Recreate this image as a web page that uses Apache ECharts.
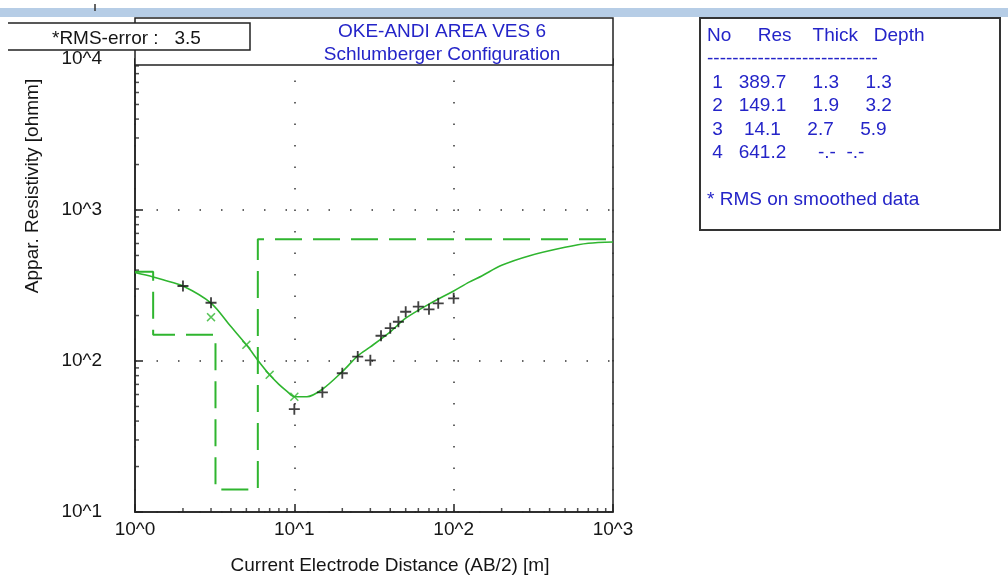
<!DOCTYPE html>
<html>
<head>
<meta charset="utf-8">
<script src="https://cdn.jsdelivr.net/npm/echarts@6/dist/echarts.min.js"></script>
<style>
  html, body { margin: 0; padding: 0; background: #fff; }
  #chart { width: 1008px; height: 582px; }
</style>
</head>
<body>
<div id="chart"></div>
<script>
// --- field data: AB/2 [m] vs apparent resistivity [ohmm] ---
const obsAB = [2, 3, 10, 15, 20, 25, 30, 35, 40, 45, 50, 60, 70, 80, 100];
const obsRho = [314, 243, 48, 62, 83, 107, 101, 147, 165, 182, 212, 229, 220, 241, 260];

// smoothed values (green x) where they differ from the field data
const smoothAB = [3, 5, 7, 10];
const smoothRho = [195, 128, 81, 58];

// model response curve
const curveAB = [1, 1.3, 1.5, 2, 3, 4, 5, 6, 7, 8, 9, 10, 12, 15, 20, 25, 30, 40, 50, 70, 100, 125, 150, 200, 300, 500, 700, 1000];
const curveRho = [385, 360, 345, 314, 242, 169, 128, 99, 81, 70, 63, 58, 58, 65, 85, 108, 124, 156, 192, 238, 291, 333, 366, 430, 498, 566, 602, 614];

// layered model
const layerNo = [1, 2, 3, 4];
const layerRes = [389.7, 149.1, 14.1, 641.2];
const layerThick = [1.3, 1.9, 2.7, null];
const layerDepth = [1.3, 3.2, 5.9, null];

const rmsError = 3.5;
const titleLines = ["OKE-ANDI AREA VES 6", "Schlumberger Configuration"];

// axis ranges / tick helpers
const xRange = [1, 1000];
const yRange = [10, 10000];
const minorMult = [2, 3, 4, 5, 6, 7, 8, 9];
const xDecades = [1, 10, 100];
const yDecades = [10, 100, 1000];

const green = "#2fb52f";
const blue = "#2424c8";
const ink = "#151515";
const FONT = "Liberation Sans";

// step line of the layered model
const stepPts = [[xRange[0], layerRes[0]]];
layerDepth.forEach((d, i) => {
    if (d == null) return;
    stepPts.push([d, layerRes[i]], [d, layerRes[i + 1]]);
});
stepPts.push([xRange[1], layerRes[layerRes.length - 1]]);

const xMinor = xDecades.flatMap(d => minorMult.map(m => [m * d, yRange[0]]));
const yMinor = yDecades.flatMap(d => minorMult.map(m => [xRange[0], m * d]));

// table text
const rows = layerNo.map((n, i) =>
    " " + n +
    layerRes[i].toFixed(1).padStart(8) +
    (layerThick[i] != null ? layerThick[i].toFixed(1).padStart(8) : "      -.-") +
    (layerDepth[i] != null ? layerDepth[i].toFixed(1).padStart(8) : "  -.-")
);
const tableText = ["No     Res    Thick   Depth", "-".repeat(27)]
    .concat(rows, ["", "* RMS on smoothed data"]).join("\n");

const powLabel = v => "10^" + Math.round(Math.log10(v));

const chart = echarts.init(document.getElementById("chart"));

chart.setOption({
    backgroundColor: "#ffffff",
    animation: false,
    grid: {
        left: 135, right: 395, top: 59, bottom: 70,
        show: true, borderColor: "#222", borderWidth: 1.5,
        backgroundColor: "#fff",
        outerBoundsMode: "none"
    },
    xAxis: {
        type: "log", logBase: 10, min: xRange[0], max: xRange[1],
        axisLine: { lineStyle: { color: "#222", width: 1.5 } },
        axisTick: { inside: true, length: 8, lineStyle: { color: "#222", width: 1.5 } },
        axisLabel: { formatter: powLabel, color: ink, fontSize: 19, fontFamily: FONT, margin: 8 },
        splitLine: { show: true, lineStyle: { color: "#333", width: 1.5, type: [1.5, 20] } },
        minorTick: { show: false }
    },
    yAxis: {
        type: "log", logBase: 10, min: yRange[0], max: yRange[1],
        axisLine: { lineStyle: { color: "#222", width: 1.5 } },
        axisTick: { inside: true, length: 8, lineStyle: { color: "#222", width: 1.5 } },
        axisLabel: { formatter: powLabel, color: ink, fontSize: 19, fontFamily: FONT, margin: 33 },
        splitLine: { show: true, lineStyle: { color: "#333", width: 1.5, type: [1.5, 20] } },
        minorTick: { show: false }
    },
    series: [
        {
            name: "model", type: "line", data: stepPts, showSymbol: false, silent: true,
            lineStyle: { color: green, width: 2, type: [27, 11] }, z: 3
        },
        {
            name: "response", type: "line", smooth: 0.3, showSymbol: false, silent: true,
            data: curveAB.map((x, i) => [x, curveRho[i]]),
            lineStyle: { color: green, width: 1.6 }, z: 4
        },
        {
            name: "smoothed", type: "scatter", silent: true,
            symbol: "path://M0,1.2L1.2,0L5,3.8L8.8,0L10,1.2L6.2,5L10,8.8L8.8,10L5,6.2L1.2,10L0,8.8L3.8,5Z",
            symbolSize: 9,
            itemStyle: { color: green },
            data: smoothAB.map((x, i) => [x, smoothRho[i]]), z: 5
        },
        {
            name: "observed", type: "scatter", silent: true,
            symbol: "path://M5,0h2v12h-2z M0,5h12v2h-12z",
            symbolSize: 11,
            itemStyle: { color: "#111" },
            data: obsAB.map((x, i) => [x, obsRho[i]]), z: 6
        },
        {
            name: "xMinorTicks", type: "scatter", silent: true, clip: false,
            symbol: "rect", symbolSize: [1.5, 4], symbolOffset: [0, -2],
            itemStyle: { color: "#222" }, data: xMinor, z: 7
        },
        {
            name: "yMinorTicks", type: "scatter", silent: true, clip: false,
            symbol: "rect", symbolSize: [4, 1.5], symbolOffset: [2, 0],
            itemStyle: { color: "#222" }, data: yMinor, z: 7
        }
    ],
    graphic: [
        // window strip at top
        { type: "rect", shape: { x: 0, y: 8, width: 1008, height: 9 }, style: { fill: "#b6cde6" }, z: 100 },
        { type: "line", shape: { x1: 95, y1: 4, x2: 95, y2: 11 }, style: { stroke: "#333", lineWidth: 1.5 }, z: 101 },
        // title box
        { type: "rect", shape: { x: 135, y: 18, width: 478, height: 47 }, style: { fill: "#fff", stroke: "#222", lineWidth: 1.5 }, z: 100 },
        { type: "text", x: 442, y: 32, style: { text: titleLines[0], fill: blue, font: "19px '" + FONT + "'", textAlign: "center", textVerticalAlign: "middle" }, z: 101 },
        { type: "text", x: 442, y: 55, style: { text: titleLines[1], fill: blue, font: "19px '" + FONT + "'", textAlign: "center", textVerticalAlign: "middle" }, z: 101 },
        // RMS box
        { type: "rect", shape: { x: 0, y: 23, width: 250, height: 27 }, style: { fill: "#fff" }, z: 102 },
        { type: "polyline", shape: { points: [[8, 23], [250, 23], [250, 50], [8, 50]] }, style: { fill: null, stroke: "#222", lineWidth: 1.5 }, z: 103 },
        { type: "text", x: 52, y: 39, style: { text: "*RMS-error :   " + rmsError.toFixed(1), fill: ink, font: "19px '" + FONT + "'", textAlign: "left", textVerticalAlign: "middle" }, z: 103 },
        // layer table
        { type: "rect", shape: { x: 700, y: 18, width: 300, height: 212 }, style: { fill: "#fff", stroke: "#333", lineWidth: 2 }, z: 100 },
        { type: "text", x: 707, y: 24, style: { text: tableText, fill: blue, font: "19px '" + FONT + "'", lineHeight: 23.5, textAlign: "left", textVerticalAlign: "top" }, z: 101 },
        // axis names
        { type: "text", x: 390, y: 566, style: { text: "Current Electrode Distance (AB/2) [m]", fill: ink, font: "19px '" + FONT + "'", textAlign: "center", textVerticalAlign: "middle" }, z: 101 },
        { type: "text", x: 33, y: 186, rotation: Math.PI / 2, style: { text: "Appar. Resistivity [ohmm]", fill: ink, font: "19px '" + FONT + "'", textAlign: "center", textVerticalAlign: "middle" }, z: 101 }
    ]
});

window.addEventListener("resize", () => chart.resize());
</script>
</body>
</html>
